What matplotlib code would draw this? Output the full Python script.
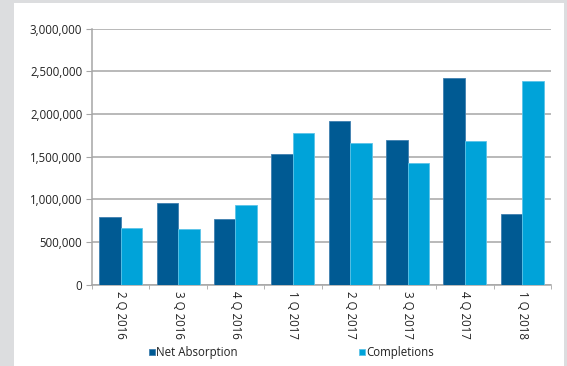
import matplotlib.pyplot as plt
import numpy as np
from matplotlib.ticker import FuncFormatter

quarters = ['2 Q 2016', '3 Q 2016', '4 Q 2016', '1 Q 2017',
            '2 Q 2017', '3 Q 2017', '4 Q 2017', '1 Q 2018']
net_absorption = [790000, 953000, 762000, 1524000, 1915000, 1688000, 2416000, 830000]
completions = [665000, 650000, 930000, 1778000, 1660000, 1420000, 1680000, 2385000]

dark = '#005a93'
light = '#00a3d9'

plt.rcParams['font.family'] = ['Open Sans', 'DejaVu Sans']

fig = plt.figure(figsize=(5.67, 3.66), dpi=100, facecolor='#dcdddf')
# white panel
fig.patches.append(plt.Rectangle((14 / 567, 0), (564 - 14) / 567, 1 - 3 / 366,
                                 transform=fig.transFigure, facecolor='white',
                                 edgecolor='none', zorder=-10))

ax = fig.add_axes([92 / 567, 1 - 284.5 / 366, (551 - 92) / 567, (284.5 - 28.5) / 366])
ax.set_facecolor('none')

x = np.arange(len(quarters))
w = 0.375
ax.bar(x - w / 2, net_absorption, w, color=dark, edgecolor='#3f7fb0',
       linewidth=0.6, label='Net Absorption', zorder=3)
ax.bar(x + w / 2, completions, w, color=light, edgecolor='#5cc4e8',
       linewidth=0.6, label='Completions', zorder=3)

ax.set_xlim(-0.5, len(quarters) - 0.5)
ax.set_ylim(0, 3000000)
ax.set_yticks(np.arange(0, 3000001, 500000))
ax.yaxis.set_major_formatter(FuncFormatter(lambda v, p: f'{int(v):,}'))
ax.yaxis.grid(True, color='#a6a6a6', linewidth=1.1, zorder=0)
ax.set_axisbelow(True)

ax.set_xticks(x)
ax.set_xticklabels(quarters, rotation=270, fontsize=8.3, color='#222222')
ax.set_xticks(np.arange(-0.5, len(quarters)), minor=True)
ax.tick_params(axis='x', which='major', length=0, pad=5)
ax.tick_params(axis='x', which='minor', length=3, color='#a6a6a6')
ax.tick_params(axis='y', length=4, color='#a6a6a6', labelsize=8.3,
               labelcolor='#222222', pad=3)

for s in ['top', 'right']:
    ax.spines[s].set_visible(False)
for s in ['left', 'bottom']:
    ax.spines[s].set_color('#a6a6a6')
    ax.spines[s].set_linewidth(1.1)

leg = ax.legend(loc='upper center', bbox_to_anchor=(0.434, -0.2), ncol=2,
                frameon=False, fontsize=8.3, handlelength=0.55, handleheight=0.55,
                handletextpad=0.1, columnspacing=10.5, labelcolor='#222222')

fig.savefig('out.png', dpi=100, facecolor=fig.get_facecolor())
